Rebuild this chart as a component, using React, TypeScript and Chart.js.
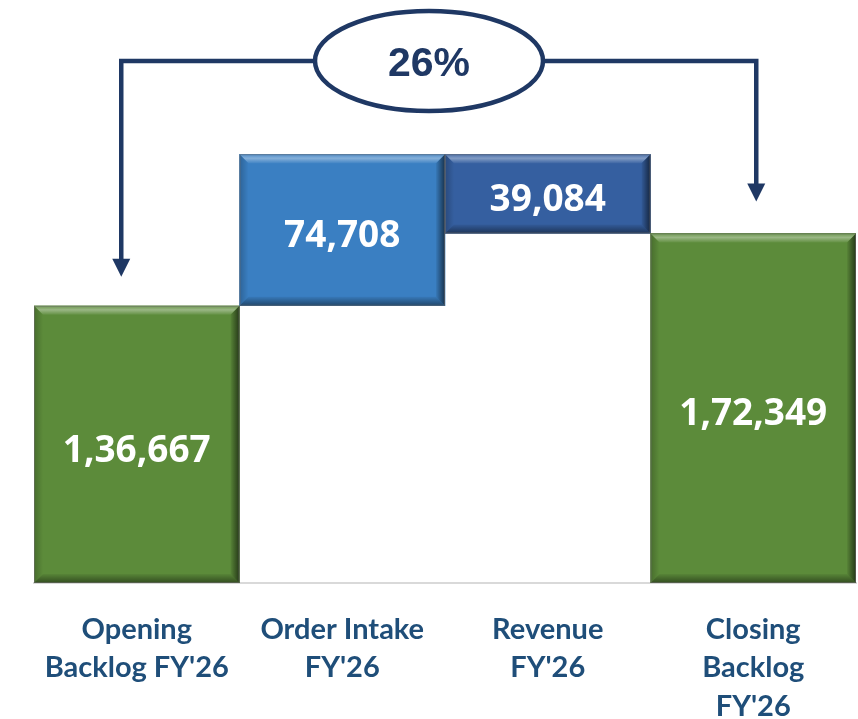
import React, { useEffect, useRef } from "react";
import { Chart, registerables } from "chart.js";

Chart.register(...registerables);

// ---- data ----
const categories: string[][] = [
  ["Opening", "Backlog FY'26"],
  ["Order Intake", "FY'26"],
  ["Revenue", "FY'26"],
  ["Closing", "Backlog", "FY'26"],
];
const openingBacklog = 136667;
const orderIntake = 74708;
const revenue = 39084;
const closingBacklog = 172349;
const barValues = [openingBacklog, orderIntake, revenue, closingBacklog];
const barColors = ["#5C8B3A", "#3A7FC2", "#355FA0", "#5C8B3A"];
const yMax = 280000;

const NAVY = "#1F3864";
const LABEL_BLUE = "#1F4E79";

function indianFormat(n: number): string {
  const s = Math.round(n).toString();
  if (s.length <= 3) return s;
  const last3 = s.slice(-3);
  let rest = s.slice(0, -3);
  const parts: string[] = [];
  while (rest.length > 2) {
    parts.unshift(rest.slice(-2));
    rest = rest.slice(0, -2);
  }
  if (rest.length) parts.unshift(rest);
  return parts.join(",") + "," + last3;
}

const peak = openingBacklog + orderIntake;
const ranges: [number, number][] = [
  [0, openingBacklog],
  [openingBacklog, peak],
  [peak - revenue, peak],
  [0, closingBacklog],
];
const growthPct = Math.round(((closingBacklog - openingBacklog) / openingBacklog) * 100);

const bevelPlugin = {
  id: "bevel",
  afterDatasetsDraw(chart: any) {
    const ctx: CanvasRenderingContext2D = chart.ctx;
    const meta = chart.getDatasetMeta(0);
    const b = 9;
    meta.data.forEach((el: any) => {
      const { x, y, base, width } = el.getProps(["x", "y", "base", "width"], true);
      const l = x - width / 2;
      const r = x + width / 2;
      const t = Math.min(y, base);
      const bt = Math.max(y, base);
      ctx.save();
      // top
      let g = ctx.createLinearGradient(0, t, 0, t + b);
      g.addColorStop(0, "rgba(255,255,255,0.10)");
      g.addColorStop(0.45, "rgba(255,255,255,0.38)");
      g.addColorStop(1, "rgba(255,255,255,0.05)");
      ctx.fillStyle = g;
      ctx.beginPath();
      ctx.moveTo(l, t);
      ctx.lineTo(r, t);
      ctx.lineTo(r - b, t + b);
      ctx.lineTo(l + b, t + b);
      ctx.closePath();
      ctx.fill();
      // bottom
      g = ctx.createLinearGradient(0, bt - b, 0, bt);
      g.addColorStop(0, "rgba(0,0,0,0.05)");
      g.addColorStop(1, "rgba(0,0,0,0.45)");
      ctx.fillStyle = g;
      ctx.beginPath();
      ctx.moveTo(l, bt);
      ctx.lineTo(r, bt);
      ctx.lineTo(r - b, bt - b);
      ctx.lineTo(l + b, bt - b);
      ctx.closePath();
      ctx.fill();
      // right
      g = ctx.createLinearGradient(r - b, 0, r, 0);
      g.addColorStop(0, "rgba(0,0,0,0.05)");
      g.addColorStop(1, "rgba(0,0,0,0.6)");
      ctx.fillStyle = g;
      ctx.beginPath();
      ctx.moveTo(r, t);
      ctx.lineTo(r, bt);
      ctx.lineTo(r - b, bt - b);
      ctx.lineTo(r - b, t + b);
      ctx.closePath();
      ctx.fill();
      // left
      g = ctx.createLinearGradient(l, 0, l + b, 0);
      g.addColorStop(0, "rgba(0,0,0,0.22)");
      g.addColorStop(1, "rgba(0,0,0,0.0)");
      ctx.fillStyle = g;
      ctx.beginPath();
      ctx.moveTo(l, t);
      ctx.lineTo(l, bt);
      ctx.lineTo(l + b, bt - b);
      ctx.lineTo(l + b, t + b);
      ctx.closePath();
      ctx.fill();
      // thin outline
      ctx.strokeStyle = "rgba(110,110,110,0.55)";
      ctx.lineWidth = 1;
      ctx.strokeRect(l + 0.5, t + 0.5, r - l - 1, bt - t - 1);
      ctx.restore();
    });

    // value labels
    ctx.save();
    ctx.fillStyle = "#FFFFFF";
    ctx.font = "bold 37px 'Noto Sans', 'Open Sans', sans-serif";
    ctx.textAlign = "center";
    ctx.textBaseline = "alphabetic";
    meta.data.forEach((el: any, i: number) => {
      const { x, y, base } = el.getProps(["x", "y", "base"], true);
      const cy = (y + base) / 2;
      const txt = indianFormat(barValues[i]);
      const m = ctx.measureText(txt);
      ctx.fillText(txt, x, cy + 3.7 + m.actualBoundingBoxAscent / 2);
    });
    ctx.restore();
  },
};

const arrowPlugin = {
  id: "growthArrows",
  afterDraw(chart: any) {
    const ctx: CanvasRenderingContext2D = chart.ctx;
    const area = chart.chartArea;
    const meta = chart.getDatasetMeta(0);
    const first = meta.data[0].getProps(["x", "y"], true);
    const last = meta.data[meta.data.length - 1].getProps(["x", "y"], true);
    const hy = area.top + 46;
    const cx = area.left + 395;
    const rx = 114;
    const ry = 50;
    const leftX = first.x - 15.5;
    const rightX = last.x + 3;
    const leftTip = first.y - 29;
    const rightTip = last.y - 32;
    const head = 18;
    const hw = 9;

    ctx.save();
    ctx.strokeStyle = NAVY;
    ctx.fillStyle = NAVY;
    ctx.lineWidth = 4.5;
    ctx.lineJoin = "miter";
    ctx.lineCap = "butt";
    // left connector
    ctx.beginPath();
    ctx.moveTo(cx - rx, hy);
    ctx.lineTo(leftX, hy);
    ctx.lineTo(leftX, leftTip - head + 1);
    ctx.stroke();
    ctx.beginPath();
    ctx.moveTo(leftX - hw, leftTip - head);
    ctx.lineTo(leftX + hw, leftTip - head);
    ctx.lineTo(leftX, leftTip);
    ctx.closePath();
    ctx.fill();
    // right connector
    ctx.beginPath();
    ctx.moveTo(cx + rx, hy);
    ctx.lineTo(rightX, hy);
    ctx.lineTo(rightX, rightTip - head + 1);
    ctx.stroke();
    ctx.beginPath();
    ctx.moveTo(rightX - hw, rightTip - head);
    ctx.lineTo(rightX + hw, rightTip - head);
    ctx.lineTo(rightX, rightTip);
    ctx.closePath();
    ctx.fill();
    // ellipse
    ctx.beginPath();
    ctx.ellipse(cx, hy, rx, ry, 0, 0, Math.PI * 2);
    ctx.fillStyle = "#FFFFFF";
    ctx.fill();
    ctx.stroke();
    // text
    ctx.fillStyle = NAVY;
    ctx.font = "bold 41px 'Liberation Sans', Arial, sans-serif";
    ctx.textAlign = "center";
    ctx.textBaseline = "alphabetic";
    const txt = growthPct + "%";
    const m = ctx.measureText(txt);
    ctx.fillText(txt, cx, hy + 1 + m.actualBoundingBoxAscent / 2);
    ctx.restore();
  },
};

export default function App() {
  const ref = useRef<HTMLCanvasElement | null>(null);

  useEffect(() => {
    document.body.style.margin = "0";
    const canvas = ref.current;
    if (!canvas) return;
    const chart = new Chart(canvas, {
      type: "bar",
      data: {
        labels: categories as any,
        datasets: [
          {
            data: ranges as any,
            backgroundColor: barColors,
            borderWidth: 0,
            categoryPercentage: 1,
            barPercentage: 1,
          },
        ],
      },
      options: {
        responsive: false,
        animation: false,
        devicePixelRatio: 1,
        layout: { padding: { left: 34, right: 2, top: 15, bottom: 0 } },
        plugins: {
          legend: { display: false },
          tooltip: { enabled: false },
        },
        scales: {
          x: {
            grid: { display: false, drawTicks: false },
            border: { display: true, color: "#D9D9D9", width: 2 },
            ticks: {
              color: LABEL_BLUE,
              font: { family: "Lato, 'Noto Sans', sans-serif", weight: "bold", size: 29, lineHeight: 1.33 },
              padding: 27,
              autoSkip: false,
              maxRotation: 0,
              minRotation: 0,
            },
            afterFit(scale: any) {
              scale.height = 136;
            },
          },
          y: {
            display: false,
            min: 0,
            max: yMax,
          },
        },
      },
      plugins: [bevelPlugin, arrowPlugin],
    });
    return () => chart.destroy();
  }, []);

  return (
    <div style={{ position: "absolute", left: 0, top: 0, width: 858, height: 719 }}>
      <canvas ref={ref} width={858} height={719} />
    </div>
  );
}
